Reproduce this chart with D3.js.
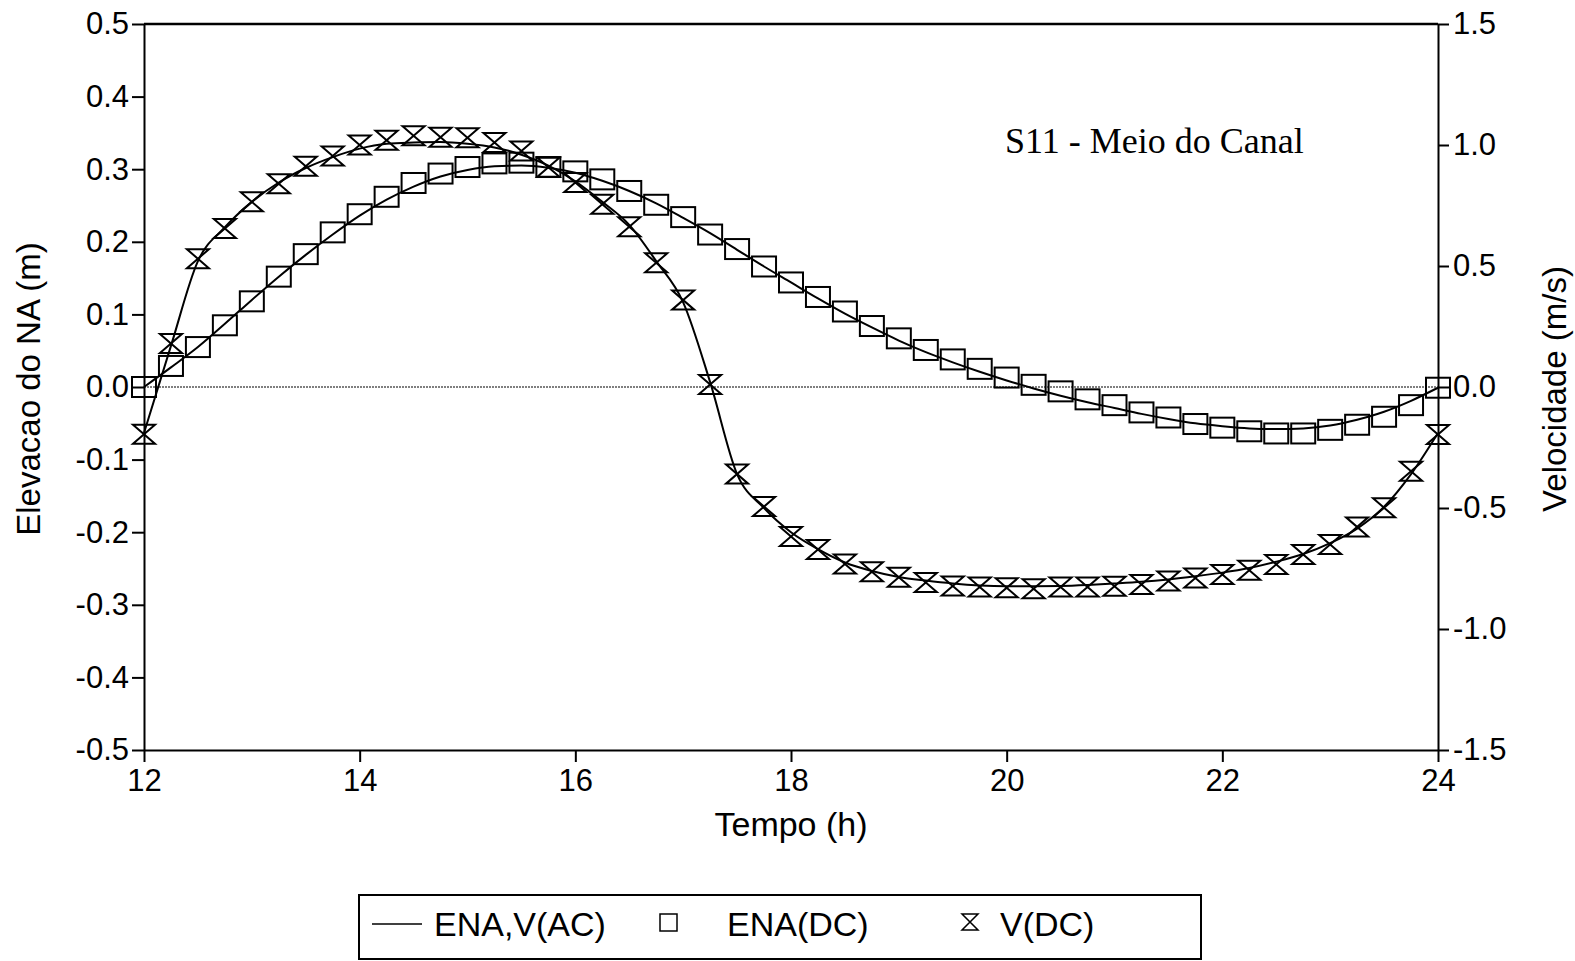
<!DOCTYPE html>
<html>
<head>
<meta charset="utf-8">
<script src="https://cdn.jsdelivr.net/npm/d3@7"></script>
<style>
  body { margin: 0; background: #fff; }
  svg text { font-family: "Liberation Sans", Arial, sans-serif; fill: #000; }
  .axis path, .axis line { stroke: #000; stroke-width: 2; }
  .note { font-family: "Liberation Serif", "Times New Roman", serif; }
</style>
</head>
<body>
<svg id="chart" width="1575" height="961"></svg>
<script>
const time = [12, 12.25, 12.5, 12.75, 13, 13.25, 13.5, 13.75, 14, 14.25, 14.5, 14.75,
  15, 15.25, 15.5, 15.75, 16, 16.25, 16.5, 16.75, 17, 17.25, 17.5, 17.75,
  18, 18.25, 18.5, 18.75, 19, 19.25, 19.5, 19.75, 20, 20.25, 20.5, 20.75,
  21, 21.25, 21.5, 21.75, 22, 22.25, 22.5, 22.75, 23, 23.25, 23.5, 23.75, 24];

// elevacao, modelo DC (quadrados)
const enaDC = [0.000, 0.029, 0.055, 0.085, 0.118, 0.152, 0.183, 0.213, 0.238, 0.262, 0.281, 0.294,
  0.303, 0.308, 0.309, 0.303, 0.297, 0.286, 0.270, 0.251, 0.234, 0.210, 0.190, 0.166,
  0.144, 0.124, 0.104, 0.084, 0.067, 0.051, 0.038, 0.025, 0.013, 0.003, -0.006, -0.017,
  -0.025, -0.035, -0.042, -0.051, -0.056, -0.061, -0.064, -0.064, -0.059, -0.052, -0.041, -0.025, -0.001];

// elevacao, modelo AC (linha)
const enaAC = [0.000, 0.027, 0.055, 0.087, 0.120, 0.152, 0.182, 0.210, 0.236, 0.258, 0.276, 0.290,
  0.299, 0.304, 0.305, 0.302, 0.295, 0.284, 0.270, 0.253, 0.233, 0.212, 0.189, 0.166,
  0.144, 0.122, 0.101, 0.082, 0.064, 0.048, 0.034, 0.021, 0.009, -0.002, -0.012, -0.021,
  -0.029, -0.037, -0.044, -0.050, -0.054, -0.057, -0.058, -0.057, -0.053, -0.045, -0.034, -0.019, -0.001];

// velocidade, modelo DC (ampulhetas)
const vDC = [-0.195, 0.180, 0.530, 0.655, 0.765, 0.840, 0.912, 0.955, 1.000, 1.020, 1.038, 1.032,
  1.030, 1.010, 0.975, 0.908, 0.845, 0.755, 0.662, 0.513, 0.359, 0.010, -0.360, -0.494,
  -0.618, -0.671, -0.731, -0.763, -0.786, -0.808, -0.822, -0.826, -0.830, -0.834, -0.826, -0.826,
  -0.823, -0.816, -0.802, -0.789, -0.775, -0.757, -0.733, -0.692, -0.651, -0.578, -0.499, -0.348, -0.196];

// velocidade, modelo AC (linha)
const vAC = [-0.190, 0.170, 0.520, 0.660, 0.765, 0.845, 0.905, 0.950, 0.985, 1.005, 1.010, 1.012,
  1.005, 0.990, 0.960, 0.915, 0.850, 0.765, 0.670, 0.520, 0.350, 0.020, -0.360, -0.500,
  -0.600, -0.670, -0.725, -0.760, -0.785, -0.800, -0.812, -0.820, -0.823, -0.823, -0.822, -0.818,
  -0.812, -0.805, -0.795, -0.782, -0.767, -0.748, -0.722, -0.690, -0.645, -0.585, -0.495, -0.360, -0.190];

const xTicks = [12, 14, 16, 18, 20, 22, 24];
const leftTicks = [-0.5, -0.4, -0.3, -0.2, -0.1, 0, 0.1, 0.2, 0.3, 0.4, 0.5];
const rightTicks = [-1.5, -1.0, -0.5, 0, 0.5, 1.0, 1.5];

const legendItems = ["ENA,V(AC)", "ENA(DC)", "V(DC)"];
const noteText = "S11 - Meio do Canal";

const plot = { left: 144, right: 1438, top: 24, bottom: 750 };

const svg = d3.select("#chart");

const x = d3.scaleLinear().domain([12, 24]).range([plot.left, plot.right]);
const yE = d3.scaleLinear().domain([-0.5, 0.5]).range([plot.bottom, plot.top]);
const yV = d3.scaleLinear().domain([-1.5, 1.5]).range([plot.bottom, plot.top]);

const fmt = d => d.toFixed(1);

// linha do zero
svg.append("line")
  .attr("x1", plot.left).attr("x2", plot.right)
  .attr("y1", yE(0)).attr("y2", yE(0))
  .attr("stroke", "#555").attr("stroke-width", 1.5)
  .attr("stroke-dasharray", "2,1");

// moldura
svg.append("line")
  .attr("x1", plot.left).attr("x2", plot.right)
  .attr("y1", plot.top).attr("y2", plot.top)
  .attr("stroke", "#000").attr("stroke-width", 2.5);

svg.append("g")
  .attr("class", "axis")
  .attr("transform", `translate(${plot.left},0)`)
  .call(d3.axisLeft(yE).tickValues(leftTicks).tickFormat(fmt).tickSize(12).tickSizeOuter(0).tickPadding(3))
  .call(g => g.selectAll("text").style("font-size", "31px").attr("font-family", null));

svg.append("g")
  .attr("class", "axis")
  .attr("transform", `translate(${plot.right},0)`)
  .call(d3.axisRight(yV).tickValues(rightTicks).tickFormat(fmt).tickSize(11).tickSizeOuter(0).tickPadding(4))
  .call(g => g.selectAll("text").style("font-size", "31px").attr("font-family", null));

svg.append("g")
  .attr("class", "axis")
  .attr("transform", `translate(0,${plot.bottom})`)
  .call(d3.axisBottom(x).tickValues(xTicks).tickFormat(d3.format("d")).tickSize(12).tickSizeOuter(0).tickPadding(7))
  .call(g => g.selectAll("text").style("font-size", "31px").attr("font-family", null));

// titulos dos eixos
svg.append("text")
  .attr("x", (plot.left + plot.right) / 2)
  .attr("y", 836)
  .attr("text-anchor", "middle")
  .style("font-size", "34px")
  .text("Tempo (h)");

svg.append("text")
  .attr("transform", `translate(40,${(plot.top + plot.bottom) / 2 + 2}) rotate(-90)`)
  .attr("text-anchor", "middle")
  .style("font-size", "33px")
  .text("Elevacao do NA (m)");

svg.append("text")
  .attr("transform", `translate(1566,${(plot.top + plot.bottom) / 2 + 2}) rotate(-90)`)
  .attr("text-anchor", "middle")
  .style("font-size", "33px")
  .text("Velocidade (m/s)");

svg.append("text")
  .attr("class", "note")
  .attr("x", 1005)
  .attr("y", 153)
  .style("font-size", "36px")
  .text(noteText);

// curvas
const enaRows = time.map((t, i) => ({ t, ac: enaAC[i], dc: enaDC[i] }));
const vRows = time.map((t, i) => ({ t, ac: vAC[i], dc: vDC[i] }));

const lineE = d3.line().x(d => x(d.t)).y(d => yE(d.ac)).curve(d3.curveMonotoneX);
const lineV = d3.line().x(d => x(d.t)).y(d => yV(d.ac)).curve(d3.curveMonotoneX);

svg.append("path")
  .attr("d", lineE(enaRows))
  .attr("fill", "none").attr("stroke", "#000").attr("stroke-width", 2);

svg.append("path")
  .attr("d", lineV(vRows))
  .attr("fill", "none").attr("stroke", "#000").attr("stroke-width", 2);

const sqW = 24, sqH = 20;
svg.append("g")
  .selectAll("rect")
  .data(enaRows)
  .join("rect")
  .attr("x", d => x(d.t) - sqW / 2)
  .attr("y", d => yE(d.dc) - sqH / 2)
  .attr("width", sqW).attr("height", sqH)
  .attr("fill", "none").attr("stroke", "#000").attr("stroke-width", 2);

const hourglass = (w, h) => `M${-w / 2},${-h / 2}H${w / 2}L${-w / 2},${h / 2}H${w / 2}Z`;

svg.append("g")
  .selectAll("path")
  .data(vRows)
  .join("path")
  .attr("transform", d => `translate(${x(d.t)},${yV(d.dc)})`)
  .attr("d", hourglass(22, 19))
  .attr("fill", "none").attr("stroke", "#000").attr("stroke-width", 2);

// legenda
const legend = svg.append("g");
legend.append("rect")
  .attr("x", 359).attr("y", 895)
  .attr("width", 842).attr("height", 64)
  .attr("fill", "none").attr("stroke", "#000").attr("stroke-width", 2);

legend.append("line")
  .attr("x1", 372).attr("x2", 422)
  .attr("y1", 924).attr("y2", 924)
  .attr("stroke", "#000").attr("stroke-width", 1.5);
legend.append("text").attr("x", 434).attr("y", 936).style("font-size", "34px").text(legendItems[0]);

legend.append("rect")
  .attr("x", 660).attr("y", 914).attr("width", 17).attr("height", 17)
  .attr("fill", "none").attr("stroke", "#000").attr("stroke-width", 1.5);
legend.append("text").attr("x", 727).attr("y", 936).style("font-size", "34px").text(legendItems[1]);

legend.append("path")
  .attr("transform", "translate(970,922)")
  .attr("d", hourglass(16, 16))
  .attr("fill", "none").attr("stroke", "#000").attr("stroke-width", 1.5);
legend.append("text").attr("x", 1000).attr("y", 936).style("font-size", "34px").text(legendItems[2]);
</script>
</body>
</html>
